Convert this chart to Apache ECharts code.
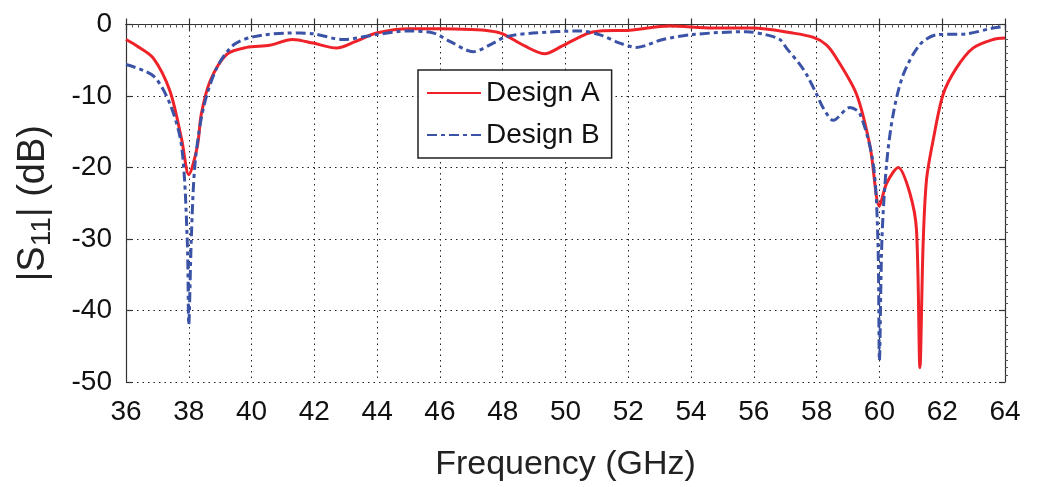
<!DOCTYPE html>
<html>
<head>
<meta charset="utf-8">
<script src="https://cdn.jsdelivr.net/npm/echarts@6/dist/echarts.min.js"></script>
<style>
html,body{margin:0;padding:0;background:#fff;}
#chart{width:1037px;height:487px;}
</style>
</head>
<body>
<div id="chart"></div>
<script>
const xTicks = [36,38,40,42,44,46,48,50,52,54,56,58,60,62,64];
const yTicks = [0,-10,-20,-30,-40,-50];

const freqA = [36.0,36.35,36.87,37.4,37.77,38.0,38.27,38.4,38.68,39.2,39.84,40.58,41.3,41.96,42.71,43.3,43.98,45.04,46.0,47.0,47.6,48.0,48.7,49.34,49.9,50.67,51.1,52.05,53.3,54.7,55.97,57.24,57.9,58.3,58.6,59.27,59.7,60.0,60.23,60.6,60.97,61.18,61.29,61.39,61.5,61.71,62.03,62.45,62.98,63.62,64.0];
const dbA   = [-2.1,-3.0,-4.7,-9.3,-16,-21,-17.1,-12.5,-7.9,-4.2,-3.2,-2.9,-2.1,-2.6,-3.3,-2.4,-1.2,-0.6,-0.6,-0.7,-0.9,-1.3,-3.0,-4.1,-3.0,-1.3,-0.9,-0.8,-0.2,-0.5,-0.5,-1.2,-1.8,-2.8,-4.5,-9.75,-17,-25.4,-22.2,-20,-23.6,-28.7,-48,-30.9,-21.7,-16.2,-9.75,-6.1,-3.3,-2.1,-1.9];

const freqB = [36.0,36.87,37.4,37.77,37.95,38.0,38.08,38.2,38.47,38.9,39.44,40.08,41.14,41.54,41.97,42.92,43.98,45.0,45.8,46.33,47.06,47.7,48.12,48.96,50.46,51.1,51.73,52.26,53.1,54.05,55.76,56.4,56.83,57.04,57.47,57.68,58.0,58.2,58.53,59.06,59.38,59.8,59.95,60.0,60.08,60.23,60.44,60.76,61.29,61.82,62.78,63.62,64.0];
const dbB   = [-5.6,-7.2,-11.1,-17,-30,-42,-30,-19.4,-11.6,-6,-2.8,-1.7,-1.2,-1.2,-1.3,-2.1,-1.4,-0.9,-1.2,-2.4,-3.8,-2.6,-1.7,-1.2,-0.9,-1.45,-2.6,-3.2,-2.1,-1.4,-1.0,-1.45,-2.1,-3.3,-5.6,-7.0,-9.75,-11.6,-13.4,-11.6,-12.5,-19.4,-30,-47,-30,-19.4,-12.5,-7,-2.8,-1.45,-1.3,-0.5,-0.3];

const pairs = (xs, ys) => xs.map((x, i) => [x, ys[i]]);

const FONT = 'Liberation Sans, Arial, sans-serif';
const axisLine = {show: true, lineStyle: {color: '#333', width: 1.2}};
const grid = {left: 126, right: 32, top: 24.5, bottom: 101};
const gridDots = {show: true, lineStyle: {color: '#222', type: [1.5, 4], width: 1}};
const majorIn = {show: true, inside: true, length: 6, lineStyle: {color: '#333', width: 1.2}};

const chart = echarts.init(document.getElementById('chart'));
chart.setOption({
  animation: false,
  backgroundColor: '#fff',
  grid: grid,
  xAxis: [
    {
      type: 'value', min: 36, max: 64, interval: 2, position: 'bottom',
      axisLine: axisLine, axisTick: majorIn,
      minorTick: {show: true, splitNumber: 10, length: -3, lineStyle: {color: '#555'}},
      name: 'Frequency (GHz)', nameLocation: 'middle', nameGap: 66,
      nameTextStyle: {fontFamily: FONT, fontSize: 34, color: '#222'},
      axisLabel: {fontFamily: FONT, fontSize: 28, color: '#111', margin: 16,
        customValues: xTicks},
      splitLine: gridDots
    },
    {
      type: 'value', min: 36, max: 64, interval: 2, position: 'top',
      axisLine: axisLine, axisTick: majorIn,
      axisLabel: {show: false}, splitLine: {show: false}
    }
  ],
  yAxis: [
    {
      type: 'value', min: -50, max: 0, interval: 10, position: 'left',
      axisLine: axisLine, axisTick: majorIn,
      name: '|S{sub|11}| (dB)', nameLocation: 'middle', nameGap: 70, nameRotate: 90,
      nameTextStyle: {fontFamily: FONT, fontSize: 38, color: '#222',
        rich: {sub: {fontFamily: FONT, fontSize: 28, color: '#222', verticalAlign: 'bottom', padding: [16, 0, 0, 0]}}},
      axisLabel: {fontFamily: FONT, fontSize: 28, color: '#111', margin: 14,
        customValues: yTicks},
      splitLine: gridDots
    },
    {
      type: 'value', min: -50, max: 0, interval: 10, position: 'right',
      axisLine: axisLine, axisTick: majorIn,
      minorTick: {show: true, splitNumber: 10, length: -3, lineStyle: {color: '#555'}},
      axisLabel: {show: false}, splitLine: {show: false}
    }
  ],
  legend: {
    show: true, orient: 'vertical', left: 418, top: 70,
    backgroundColor: '#fff', borderColor: '#222', borderWidth: 1.5, borderRadius: 0,
    padding: [8, 12, 8, 8], itemGap: 12, itemWidth: 54, itemHeight: 14,
    itemStyle: {opacity: 0},
    textStyle: {fontFamily: FONT, fontSize: 28, color: '#111', lineHeight: 30},
    data: ['Design A', 'Design B']
  },
  series: [
    {
      name: 'Design A', type: 'line', xAxisIndex: 0, yAxisIndex: 0,
      data: pairs(freqA, dbA), showSymbol: false, symbol: 'none', smooth: 0.3,
      lineStyle: {color: '#ee2228', width: 3},
      itemStyle: {color: '#ee2228'}, z: 3
    },
    {
      name: 'Design B', type: 'line', xAxisIndex: 0, yAxisIndex: 0,
      data: pairs(freqB, dbB), showSymbol: false, symbol: 'none', smooth: 0.3,
      lineStyle: {color: '#3b53a6', width: 3, type: [10, 4, 4, 4]},
      itemStyle: {color: '#3b53a6'}, z: 4
    }
  ]
});
</script>
</body>
</html>
